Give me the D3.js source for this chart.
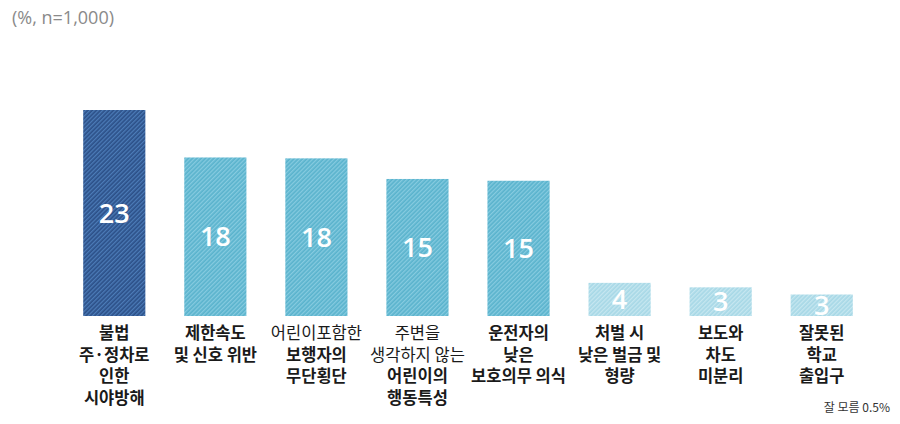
<!DOCTYPE html>
<html><head><meta charset="utf-8">
<script src="https://cdn.jsdelivr.net/npm/d3@7"></script>
<style>body{margin:0;background:#fff}svg{display:block}</style>
</head><body>
<svg id="c" width="900" height="424"></svg>
<script>
const categories = ["c1","c2","c3","c4","c5","c6","c7","c8"];
const values = [23.0, 17.7, 17.6, 15.3, 15.1, 3.7, 3.2, 2.4];
const valueLabels = ["23","18","18","15","15","4","3","3"];
const tiers = [0,1,1,1,1,2,2,2];
// each label line: [text, bold]
const catLabels = [
  [["불법",1],["주·정차로",1],["인한",1],["시야방해",1]],
  [["제한속도",1],["및 신호 위반",1]],
  [["어린이포함한",0],["보행자의",1],["무단횡단",1]],
  [["주변을",0],["생각하지 않는",0],["어린이의",1],["행동특성",1]],
  [["운전자의",1],["낮은",1],["보호의무 의식",1]],
  [["처벌 시",1],["낮은 벌금 및",1],["형량",1]],
  [["보도와",1],["차도",1],["미분리",1]],
  [["잘못된",1],["학교",1],["출입구",1]]
];
const title = "(%, n=1,000)";
const footnote = "잘 모름 0.5%";

const svg = d3.select("#c");
const font = "'Noto Sans CJK KR','Noto Sans',sans-serif";

const tierBase = ["#2c5088","#5ab3cd","#a7d8e6"];
const tierStripe = ["#4c7cb8","#86cbe0","#c6e7f0"];
const defs = svg.append("defs");
tierBase.forEach((c,i)=>{
  const p = defs.append("pattern").attr("id","pat"+i).attr("patternUnits","userSpaceOnUse")
    .attr("width",3).attr("height",3).attr("patternTransform","rotate(45)");
  p.append("rect").attr("width",3).attr("height",3).attr("fill",c);
  p.append("rect").attr("width",1.3).attr("height",3).attr("fill",tierStripe[i]);
});

const x = d3.scaleBand().domain(categories).range([64, 872]).paddingInner(0.385).paddingOuter(0.19);
const y = d3.scaleLinear().domain([0, 23]).range([316, 110]);

svg.append("text").attr("x",12).attr("y",24).attr("font-family","'Open Sans','Noto Sans',sans-serif").attr("font-size",18)
  .attr("fill","#8a8a8a").text(title);

svg.selectAll("rect.bar").data(values).join("rect").attr("class","bar")
  .attr("x",(d,i)=>x(categories[i])).attr("width",x.bandwidth())
  .attr("y",d=>y(d)).attr("height",d=>y(0)-y(d))
  .attr("fill",(d,i)=>`url(#pat${tiers[i]})`);

svg.selectAll("text.val").data(values).join("text").attr("class","val")
  .attr("x",(d,i)=>x(categories[i])+x.bandwidth()/2)
  .attr("y",d=>(y(d)+y(0))/2)
  .attr("dy","0.36em").attr("text-anchor","middle")
  .attr("font-family","'Open Sans','Noto Sans',sans-serif").attr("font-weight",600)
  .attr("font-size",27).attr("fill","#fff")
  .text((d,i)=>valueLabels[i]);

catLabels.forEach((lines,i)=>{
  const cx = x(categories[i])+x.bandwidth()/2;
  const t = svg.append("text").attr("text-anchor","middle").attr("font-family",font)
    .attr("font-size",16.5).attr("fill","#1a1a1a");
  lines.forEach((l,j)=>{
    t.append("tspan").attr("x",cx).attr("y",339+j*21.7)
      .attr("font-weight",l[1]?"bold":"normal").text(l[0]);
  });
});

svg.append("text").attr("x",890).attr("y",412).attr("text-anchor","end")
  .attr("font-family",font).attr("font-size",12).attr("fill","#333").text(footnote);
</script>
</body></html>
